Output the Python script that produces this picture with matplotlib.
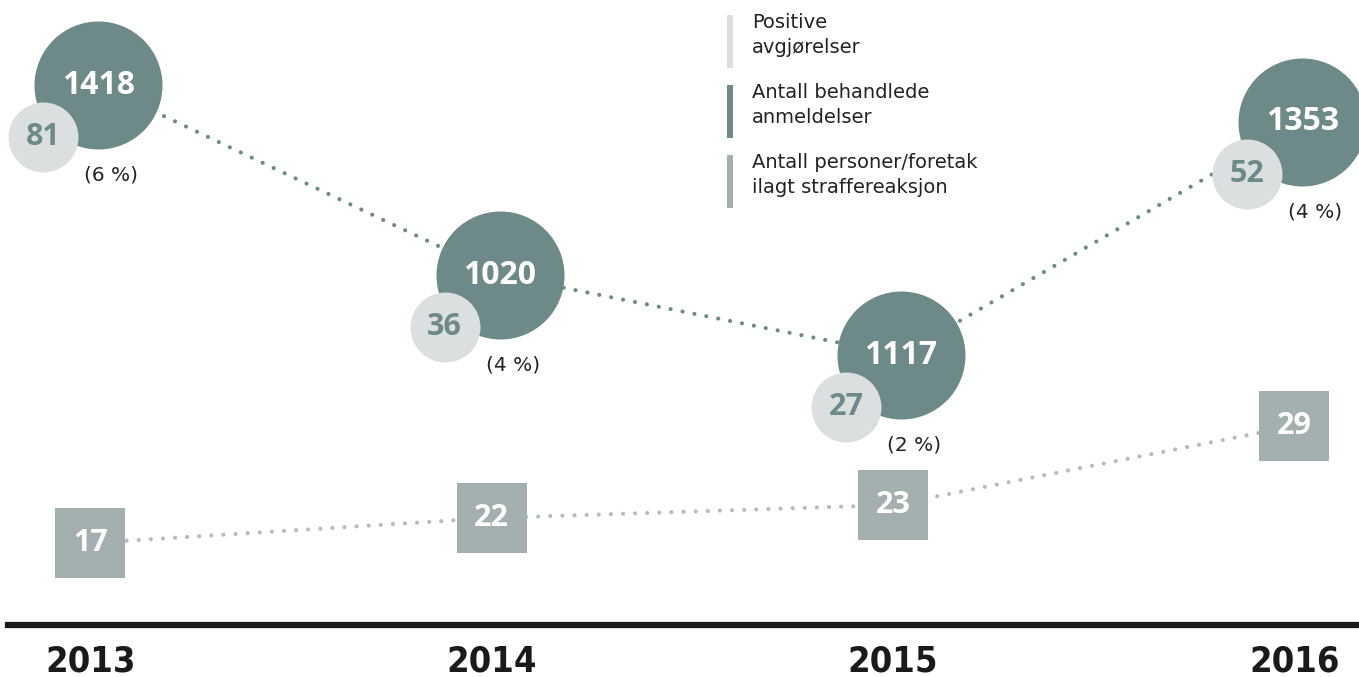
import matplotlib.pyplot as plt
import numpy as np
from matplotlib import font_manager

# data
years = [2013, 2014, 2015, 2016]
behandlede = [1418, 1020, 1117, 1353]      # Antall behandlede anmeldelser
positive = [81, 36, 27, 52]                # Positive avgjørelser
andel = ["(6 %)", "(4 %)", "(2 %)", "(4 %)"]
straffet = [17, 22, 23, 29]                # personer/foretak ilagt straffereaksjon

# layout (vertical level of each group, in pixels from the top)
bubble_level = [85, 275, 355, 122]
square_level = [543, 518, 505, 426]

DARK = "#6e8a88"
LIGHT = "#dcdfe0"
MID = "#a3b0af"

PX = 401.3  # pixels per year

names = sorted({f.name for f in font_manager.fontManager.ttflist})
print([n for n in names if "Narrow" in n or "Condensed" in n or "Cond" in n])


def main():
    fig = plt.figure(figsize=(13.59, 6.77), dpi=100)
    ax = fig.add_axes([0, 0, 1, 1])
    ax.set_xlim(2013 - 98.3 / PX, 2013 + (1359 - 98.3) / PX)
    ax.set_ylim(677, 0)
    ax.axis("off")

    yrs = np.array(years, dtype=float)
    big_y = np.array(bubble_level, dtype=float)
    sq_y = np.array(square_level, dtype=float)
    small_x = yrs - 55 / PX
    small_y = big_y + 52
    sq_x = yrs - 8 / PX

    # dotted connectors
    ax.plot(yrs, big_y, color=DARK, lw=3.0, ls=(0, (0.01, 2.9)),
            dash_capstyle="round", zorder=1)
    ax.plot(sq_x, sq_y, color="#b3bdbc", lw=3.0, ls=(0, (0.01, 2.9)),
            dash_capstyle="round", zorder=1)

    # bubbles
    ax.scatter(yrs, big_y, s=(128 * 0.72) ** 2, color=DARK, linewidths=0, zorder=2)
    ax.scatter(small_x, small_y, s=(70 * 0.72) ** 2, color=LIGHT, linewidths=0, zorder=3)
    ax.scatter(sq_x, sq_y, s=(70 * 0.72) ** 2, marker="s", color=MID, linewidths=0, zorder=2)

    for i in range(len(years)):
        ax.text(yrs[i], big_y[i], str(behandlede[i]), color="white", fontsize=23,
                fontweight="bold", family="Open Sans", ha="center", va="center", zorder=4)
        ax.text(small_x[i], small_y[i], str(positive[i]), color=DARK, fontsize=22,
                fontweight="bold", family="Open Sans", ha="center", va="center", zorder=4)
        ax.text(yrs[i] + 13 / PX, big_y[i] + 90, andel[i], color="#222222", fontsize=14.5,
                family="DejaVu Sans", ha="center", va="center", zorder=4)
        ax.text(sq_x[i], sq_y[i], str(straffet[i]), color="white", fontsize=22,
                fontweight="bold", family="Open Sans", ha="center", va="center", zorder=4)
        ax.text(yrs[i] - 8 / PX, 662, str(years[i]), color="#1a1a1a", fontsize=26,
                fontweight="bold", fontstretch="condensed",
                family=["Liberation Sans Narrow", "DejaVu Sans"],
                ha="center", va="center")

    # baseline
    ax.axhline(625, xmin=8 / 1359, xmax=1, color="#1a1a1a", lw=4.5)

    # legend
    legend_items = [("Positive\navgjørelser", LIGHT),
                    ("Antall behandlede\nanmeldelser", DARK),
                    ("Antall personer/foretak\nilagt straffereaksjon", MID)]
    x0 = 2013 + (727 - 98.3) / PX
    x1 = 2013 + (733 - 98.3) / PX
    xt = 2013 + (752 - 98.3) / PX
    for k, (label, col) in enumerate(legend_items):
        top = 15 + 70 * k
        ax.fill_between([x0, x1], top, top + 53, color=col, linewidth=0)
        ax.text(xt, top + 20, label, fontsize=14, family="DejaVu Sans",
                color="#222222", ha="left", va="center", linespacing=1.45)

    fig.savefig("out.png", dpi=100)


main()
